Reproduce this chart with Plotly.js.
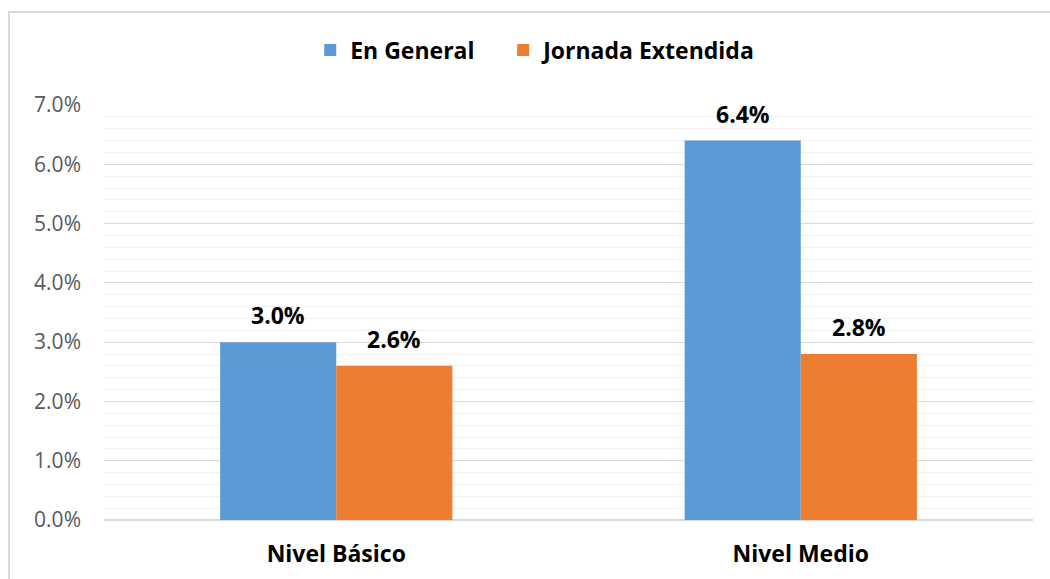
<!DOCTYPE html>
<html><head><meta charset="utf-8">
<script src="https://cdn.plot.ly/plotly-3.0.1.min.js"></script>
<style>html,body{margin:0;padding:0;background:#fff;}#wrap{position:relative;width:1050px;height:579px;overflow:hidden;}
#frame{position:absolute;left:8px;top:11px;width:1060px;height:600px;border:2px solid #d9d9d9;pointer-events:none;}</style>
</head><body><div id="wrap"><div id="chart" style="width:1050px;height:579px;"></div><div id="frame"></div></div>
<script>
const categories = ["Nivel Básico", "Nivel Medio"];
const seriesNames = ["En General", "Jornada Extendida"];
const enGeneral = [0.030, 0.064];
const jornadaExtendida = [0.026, 0.028];
const tickValues = [0, 0.01, 0.02, 0.03, 0.04, 0.05, 0.06, 0.07];

const font = "Open Sans, Noto Sans, sans-serif";
const boldFont = {family: font, size: 23, color: "#000", weight: "bold"};
function trace(name, vals, color, legend) {
  return {
    type: "bar", name: name, x: categories, y: vals,
    marker: {color: color}, legend: legend,
    hoverinfo: "none"
  };
}
const series = [enGeneral, jornadaExtendida];
const data = [trace(seriesNames[0], enGeneral, "#5b9bd5", "legend"), trace(seriesNames[1], jornadaExtendida, "#ed7d31", "legend2")];
const annotations = [];
series.forEach((vals, s) => {
  vals.forEach((v, i) => {
    annotations.push({
      x: categories[i], y: v, xref: "x", yref: "y",
      text: (v * 100).toFixed(1) + "%",
      showarrow: false, yanchor: "bottom", xanchor: "center",
      xshift: s === 0 ? -58 : 58, yshift: 9,
      font: boldFont
    });
  });
});
const legendBase = {orientation: "h", xanchor: "left", y: 1.1325, yanchor: "middle", font: boldFont, itemwidth: 30};
const layout = {
  width: 1050, height: 579,
  margin: {l: 104, r: 17, t: 105, b: 59},
  paper_bgcolor: "#fff", plot_bgcolor: "#fff",
  barmode: "group", bargap: 0.5, bargroupgap: 0,
  showlegend: true,
  annotations: annotations,
  legend: Object.assign({x: 0.222}, legendBase),
  legend2: Object.assign({x: 0.4297}, legendBase),
  xaxis: {showgrid: false, showline: false, ticks: "", tickfont: boldFont, ticklabelstandoff: 18},
  yaxis: {range: [0, 0.07], tickvals: tickValues, tickformat: ".1%",
          tickfont: {family: font, size: 21, color: "#595959"},
          gridcolor: "#d9d9d9", gridwidth: 1, showline: false, zeroline: true, zerolinecolor: "#d9d9d9", zerolinewidth: 1.5,
          ticklabelstandoff: 22,
          minor: {dtick: 0.002, showgrid: true, gridcolor: "#f0f0f0", gridwidth: 1}}
};
Plotly.newPlot("chart", data, layout, {displayModeBar: false, staticPlot: true});
</script></body></html>
